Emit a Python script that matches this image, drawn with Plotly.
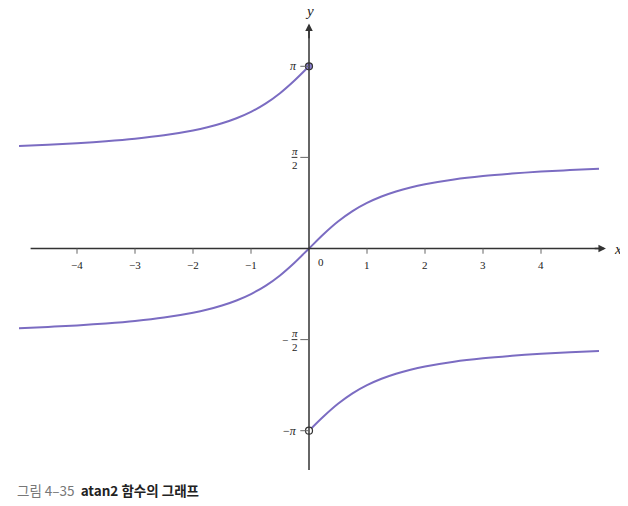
import plotly.graph_objects as go

# middle branch (x from -5 to 5)
mid_x = [-5, -4.5, -4, -3.5, -3, -2.5, -2, -1.75, -1.5, -1.25, -1, -0.75, -0.5, -0.25, 0,
         0.25, 0.5, 0.75, 1, 1.25, 1.5, 1.75, 2, 2.5, 3, 3.5, 4, 4.5, 5]
mid_y = [-1.373, -1.352, -1.326, -1.292, -1.249, -1.190, -1.107, -1.052, -0.983, -0.896, -0.785, -0.644, -0.464, -0.245, 0.0,
         0.245, 0.464, 0.644, 0.785, 0.896, 0.983, 1.052, 1.107, 1.190, 1.249, 1.292, 1.326, 1.352, 1.373]
# upper-left branch
up_x = [-5, -4.5, -4, -3.5, -3, -2.5, -2, -1.75, -1.5, -1.25, -1, -0.75, -0.5, -0.25, 0]
up_y = [1.768, 1.790, 1.816, 1.850, 1.893, 1.951, 2.034, 2.089, 2.159, 2.246, 2.356, 2.498, 2.678, 2.897, 3.142]
# lower-right branch
lo_x = [0, 0.25, 0.5, 0.75, 1, 1.25, 1.5, 1.75, 2, 2.5, 3, 3.5, 4, 4.5, 5]
lo_y = [-3.142, -2.897, -2.678, -2.498, -2.356, -2.246, -2.159, -2.089, -2.034, -1.951, -1.893, -1.850, -1.816, -1.790, -1.768]

x_ticks = [-4, -3, -2, -1, 1, 2, 3, 4]
x_tick_labels = ["−4", "−3", "−2", "−1", "1", "2", "3", "4"]
PI = 3.14159
y_ticks = [PI, PI / 2, -PI / 2, -PI]

CURVE = "#7b6cc2"
AX = "#333333"
SERIF = "Liberation Serif, DejaVu Serif, serif"

# page body has an 8px margin: figure is 620x498, origin at (301, 240.5) inside it
W, H = 620, 498
OX, OY, U = 301, 240.5, 58

fig = go.Figure()
for xs, ys in [(mid_x, mid_y), (up_x, up_y), (lo_x, lo_y)]:
    fig.add_trace(go.Scatter(x=xs, y=ys, mode="lines", line=dict(color=CURVE, width=2, shape="spline"),
                             hoverinfo="skip", showlegend=False))

shapes = []
# axes
shapes.append(dict(type="line", xref="x", yref="y", x0=-4.8, x1=5.0, y0=0, y1=0, line=dict(color=AX, width=1.5)))
shapes.append(dict(type="line", xref="x", yref="y", x0=0, x1=0, y0=-3.82, y1=3.75, line=dict(color=AX, width=1.5)))
# x ticks
for t in x_ticks:
    shapes.append(dict(type="line", xref="x", yref="y", x0=t, x1=t, y0=0, y1=-0.09, line=dict(color="#666", width=1)))
# y ticks
for t in y_ticks:
    shapes.append(dict(type="line", xref="x", yref="y", x0=-0.15, x1=0, y0=t, y1=t, line=dict(color="#666", width=1)))
# fraction bars
shapes.append(dict(type="line", xref="x", yref="y", x0=-0.3, x1=-0.2, y0=PI / 2, y1=PI / 2, line=dict(color="#333", width=1)))
shapes.append(dict(type="line", xref="x", yref="y", x0=-0.3, x1=-0.2, y0=-PI / 2, y1=-PI / 2, line=dict(color="#333", width=1)))

ann = []
# arrows
ann.append(dict(x=5.12, y=0, ax=4.9, ay=0, xref="x", yref="y", axref="x", ayref="y", text="", showarrow=True,
                arrowhead=2, arrowsize=1, arrowwidth=1.5, arrowcolor=AX))
ann.append(dict(x=0, y=3.88, ax=0, ay=3.6, xref="x", yref="y", axref="x", ayref="y", text="", showarrow=True,
                arrowhead=2, arrowsize=1, arrowwidth=1.5, arrowcolor=AX))
ann.append(dict(x=5.32, y=0, xref="x", yref="y", text="<i>x</i>", showarrow=False, font=dict(family=SERIF, size=15, color="#222")))
ann.append(dict(x=0, y=4.1, xref="x", yref="y", text="<i>y</i>", showarrow=False, font=dict(family=SERIF, size=15, color="#222")))
for t, lab in zip(x_ticks, x_tick_labels):
    ann.append(dict(x=t, y=-0.29, xref="x", yref="y", text=lab, showarrow=False, font=dict(family=SERIF, size=11, color="#222")))
ann.append(dict(x=0.2, y=-0.24, xref="x", yref="y", text="0", showarrow=False, font=dict(family=SERIF, size=11, color="#222")))
# y labels
ann.append(dict(x=-0.26, y=PI, xref="x", yref="y", text="<i>π</i>", showarrow=False, font=dict(family=SERIF, size=12, color="#222")))
ann.append(dict(x=-0.33, y=-PI, xref="x", yref="y", text="−<i>π</i>", showarrow=False, font=dict(family=SERIF, size=12, color="#222")))
for s in [1, -1]:
    ann.append(dict(x=-0.25, y=s * PI / 2 + 0.11, xref="x", yref="y", text="<i>π</i>", showarrow=False, font=dict(family=SERIF, size=11, color="#222")))
    ann.append(dict(x=-0.25, y=s * PI / 2 - 0.13, xref="x", yref="y", text="2", showarrow=False, font=dict(family=SERIF, size=11, color="#222")))
ann.append(dict(x=-0.42, y=-PI / 2, xref="x", yref="y", text="−", showarrow=False, font=dict(family=SERIF, size=11, color="#222")))
# caption
ann.append(dict(x=7 / W, y=1 - 482 / H, xref="paper", yref="paper", xanchor="left", yanchor="middle",
                text="<span style='color:#777'>그림 4–35</span>  <b>atan2 함수의 그래프</b>", showarrow=False,
                font=dict(family="Noto Sans CJK KR", size=13.5, color="#222")))

# endpoint markers
fig.add_trace(go.Scatter(x=[0], y=[PI], mode="markers", marker=dict(size=7, color="#8a80d0", line=dict(color="#333", width=1.2)),
                         hoverinfo="skip", showlegend=False))
fig.add_trace(go.Scatter(x=[0], y=[-PI], mode="markers", marker=dict(size=7, color="white", line=dict(color="#333", width=1.2)),
                         hoverinfo="skip", showlegend=False))

fig.update_layout(width=W, height=H, margin=dict(l=0, r=0, t=0, b=0),
                  plot_bgcolor="white", paper_bgcolor="white",
                  xaxis=dict(visible=False, range=[-OX / U, (W - OX) / U], fixedrange=True),
                  yaxis=dict(visible=False, range=[-(H - OY) / U, OY / U], fixedrange=True),
                  shapes=shapes, annotations=ann)
fig.write_html("out.html")
